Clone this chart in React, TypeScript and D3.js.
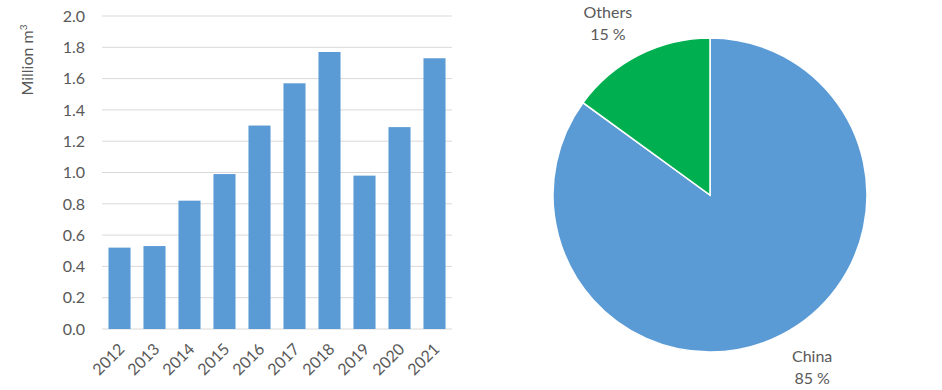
import React from "react";
import * as d3 from "d3";

const years = ["2012", "2013", "2014", "2015", "2016", "2017", "2018", "2019", "2020", "2021"];
const volumes = [0.52, 0.53, 0.82, 0.99, 1.3, 1.57, 1.77, 0.98, 1.29, 1.73];
const yTicks = [0, 0.2, 0.4, 0.6, 0.8, 1.0, 1.2, 1.4, 1.6, 1.8, 2.0];

const shareLabels = ["China", "Others"];
const shareValues = [85, 15];
const shareColors = ["#5B9BD5", "#00B050"];

const font = "Lato, 'Open Sans', sans-serif";
const textColor = "#595959";

const App = () => {
  // bar chart frame
  const x = d3.scaleBand<string>().domain(years).range([102, 452]).paddingInner(0.37).paddingOuter(0.185);
  const y = d3.scaleLinear().domain([0, 2]).range([329, 16]);

  // pie frame
  const cx = 710;
  const cy = 195;
  const r = 157;
  const pie = d3.pie<number>().sort(null).value((d) => d);
  const arcs = pie(shareValues);
  const arc = d3.arc<d3.PieArcDatum<number>>().innerRadius(0).outerRadius(r);

  return (
    <svg
      width={942}
      height={390}
      style={{ position: "absolute", left: 0, top: 0, background: "#fff" }}
      fontFamily={font}
    >
      {yTicks.map((t) => (
        <g key={t}>
          <line x1={102} x2={452} y1={y(t)} y2={y(t)} stroke="#d9d9d9" strokeWidth={1} />
          <text x={85} y={y(t)} dy="0.36em" textAnchor="end" fontSize={16} fill={textColor}>
            {t.toFixed(1)}
          </text>
        </g>
      ))}
      <text
        transform="translate(33,60) rotate(-90)"
        textAnchor="middle"
        fontSize={16}
        fill={textColor}
      >
        Million m<tspan dy="-6" fontSize={10}>3</tspan>
      </text>
      {years.map((yr, i) => (
        <rect
          key={yr}
          x={x(yr)}
          y={y(volumes[i])}
          width={x.bandwidth()}
          height={y(0) - y(volumes[i])}
          fill="#5B9BD5"
        />
      ))}
      {years.map((yr) => (
        <text
          key={yr}
          transform={`translate(${(x(yr) ?? 0) + x.bandwidth() / 2 + 2},${346}) rotate(-45)`}
          textAnchor="end"
          dy="0.36em"
          fontSize={16}
          fill={textColor}
        >
          {yr}
        </text>
      ))}

      <g transform={`translate(${cx},${cy})`}>
        {arcs.map((a, i) => (
          <path key={shareLabels[i]} d={arc(a) ?? ""} fill={shareColors[i]} stroke="#fff" strokeWidth={1.5} />
        ))}
        {arcs.map((a, i) => {
          const mid = (a.startAngle + a.endAngle) / 2;
          const lx = Math.sin(mid) * 225;
          const ly = -Math.cos(mid) * 193;
          return (
            <text key={shareLabels[i]} textAnchor="middle" fontSize={16} fill={textColor}>
              <tspan x={lx} y={ly - 11} dy="0.36em">{shareLabels[i]}</tspan>
              <tspan x={lx} y={ly + 11} dy="0.36em">{shareValues[i]} %</tspan>
            </text>
          );
        })}
      </g>
    </svg>
  );
};

export default App;
